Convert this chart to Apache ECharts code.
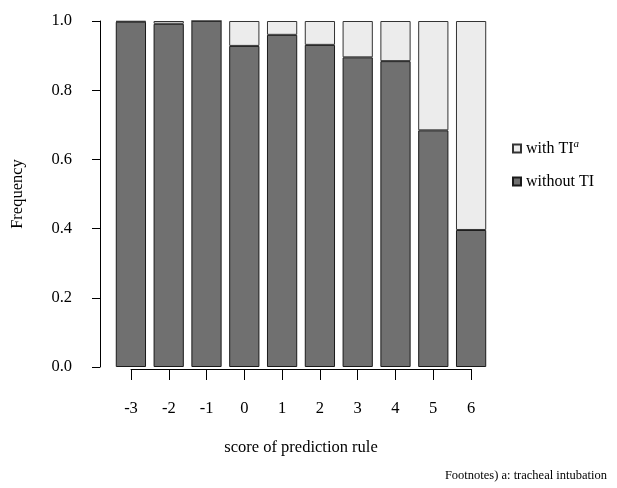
<!DOCTYPE html>
<html><head><meta charset="utf-8">
<script src="https://cdn.jsdelivr.net/npm/echarts@6/dist/echarts.min.js"></script>
<style>html,body{margin:0;padding:0;background:#fff}#c{width:617px;height:488px}</style>
</head><body><div id="c"></div>
<script>
var categories = ['-3','-2','-1','0','1','2','3','4','5','6'];
var withoutTI = [0.998, 0.992, 1.0, 0.928, 0.960, 0.931, 0.895, 0.884, 0.684, 0.396];
var withTI = withoutTI.map(function(v){ return +(1 - v).toFixed(3); });
var yTicks = [0, 0.2, 0.4, 0.6, 0.8, 1.0];
var xTickValues = [-3,-2,-1,0,1,2,3,4,5,6];

var F = '"Liberation Serif","DejaVu Serif",serif';
var chart = echarts.init(document.getElementById('c'));
chart.setOption({
  animation: false,
  backgroundColor: '#fff',
  grid: [
    {left: 112, top: 21, width: 378, height: 346},
    {left: 131, top: 368, width: 340, height: 1}
  ],
  xAxis: [
    {type: 'category', gridIndex: 0, data: categories, show: false},
    {type: 'value', gridIndex: 1, min: -3, max: 6, interval: 1, position: 'bottom',
     axisLine: {show: true, lineStyle: {color: '#000', width: 1}},
     axisTick: {show: true, length: 11, lineStyle: {color: '#000'}},
     axisLabel: {margin: 31, fontFamily: F, fontSize: 16.5, color: '#000',
       formatter: function(v){ return String(v); }},
     splitLine: {show: false},
     name: 'score of prediction rule', nameLocation: 'middle', nameGap: 70,
     nameTextStyle: {fontFamily: F, fontSize: 16.5, color: '#000'}}
  ],
  yAxis: [
    {type: 'value', gridIndex: 0, min: 0, max: 1, interval: 0.2, offset: 12,
     axisLine: {show: true, lineStyle: {color: '#000'}},
     axisTick: {show: true, length: 8, lineStyle: {color: '#000'}},
     axisLabel: {margin: 28, fontFamily: F, fontSize: 16.5, color: '#000',
       formatter: function(v){ return v.toFixed(1); }},
     splitLine: {show: false},
     name: 'Frequency', nameLocation: 'middle', nameGap: 74, nameRotate: 90,
     nameTextStyle: {fontFamily: F, fontSize: 16.5, color: '#000'}},
    {type: 'value', gridIndex: 1, show: false}
  ],
  legend: {
    orient: 'vertical', left: 507, top: 134, itemGap: 17,
    itemWidth: 8, itemHeight: 8, icon: 'rect',
    data: ['with TI', 'without TI'],
    textStyle: {fontFamily: F, fontSize: 16, color: '#000',
      rich: {s: {fontFamily: F, fontSize: 11, fontStyle: 'italic', color: '#000', verticalAlign: 'top', padding: [0,0,8,0]}}},
    formatter: function(n){ return n === 'with TI' ? 'with TI{s|a}' : n; }
  },
  series: [
    {name: 'without TI', type: 'bar', stack: 's', data: withoutTI, barCategoryGap: '20%',
     itemStyle: {color: '#707070', borderColor: '#1a1a1a', borderWidth: 1}},
    {name: 'with TI', type: 'bar', stack: 's', data: withTI, barCategoryGap: '20%',
     itemStyle: {color: '#ececec', borderColor: '#333', borderWidth: 1}}
  ],
  graphic: [
    {type: 'text', right: 10, top: 469, style: {text: 'Footnotes) a: tracheal intubation',
      fontFamily: F, fontSize: 12.5, fill: '#000'}}
  ]
});
</script></body></html>
